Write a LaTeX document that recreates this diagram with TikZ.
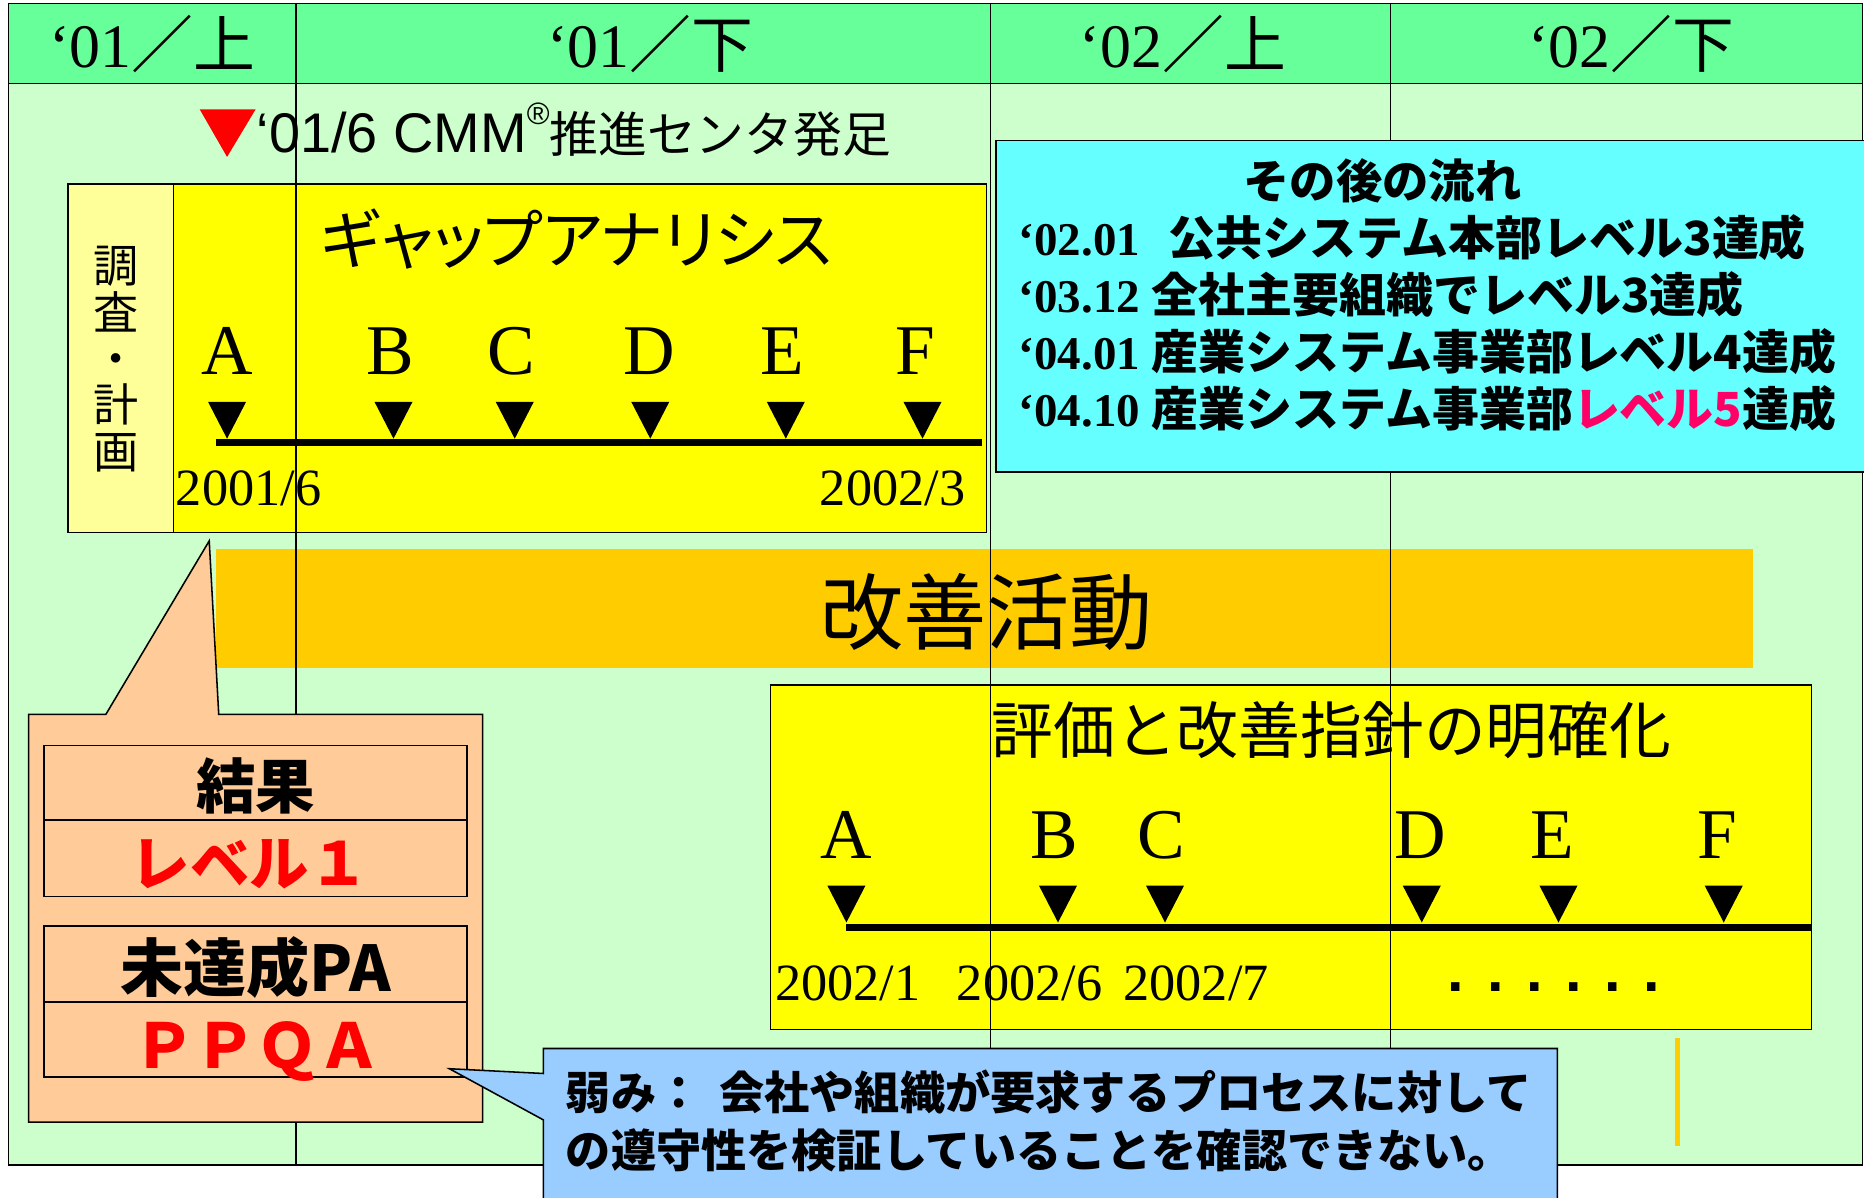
\documentclass[tikz,border=0pt]{standalone}
\usepackage{fontspec}
\setmainfont{Liberation Serif}
\newfontfamily\jp{Noto Sans CJK JP}
\newfontfamily\jpp{Noto Sans CJK JP}[RawFeature=+palt]
\newfontfamily\tms{Liberation Serif}
\newfontfamily\ari{Liberation Sans}
\newfontfamily\sqdots{Liberation Sans}[LetterSpace=38]
\newcommand\setfs[1]{\fontsize{#1}{#1}\selectfont}
\definecolor{hdr}{HTML}{66FF99}
\definecolor{bodyg}{HTML}{CCFFCC}
\definecolor{cyanbox}{HTML}{66FFFF}
\definecolor{peach}{HTML}{FFCC99}
\definecolor{bluebox}{HTML}{99CCFF}
\definecolor{yel}{HTML}{FFFF00}
\definecolor{lyel}{HTML}{FFFF99}
\definecolor{orng}{HTML}{FFCC00}
\definecolor{pinkred}{HTML}{FF0066}
\tikzset{
  lbl/.style={inner sep=0pt, outer sep=0pt},
  frame/.style={draw=black, line width=1.3pt},
  gridline/.style={draw=black, line width=1pt},
  tline/.style={line width=6pt},
  tipmark/.style={fill=black},
}
\begin{document}
\begin{tikzpicture}[x=1pt,y=-1pt]
\useasboundingbox (0,0) rectangle (1568,1007);
\fill[white] (0,0) rectangle (1568,1007);
% background table
\fill[bodyg] (7,3) rectangle (1566.5,980);
\fill[hdr] (7,3) rectangle (1566.5,70);
\draw[gridline] (7,3) rectangle (1566.5,980);
\draw[gridline] (7,70) -- (1566.5,70);
% header labels
\node[lbl, anchor=base] (h1) at (128,57) {\setfs{52}{\tms ‘01}{\jp ／上}};
\node[lbl, anchor=base] (h2) at (547,57) {\setfs{52}{\tms ‘01}{\jp ／下}};
\node[lbl, anchor=base] (h3) at (995,57) {\setfs{52}{\tms ‘02}{\jp ／上}};
\node[lbl, anchor=base] (h4) at (1372,57) {\setfs{52}{\tms ‘02}{\jp ／下}};
% CMM center start
\fill[red] (168,92) -- (215,92) -- (191,132) -- cycle;
\node[lbl, anchor=base west] (cmm) at (216,128) {{\setfs{47}\ari ‘01/6 CMM\raisebox{0.5em}{\setfs{26}®}}{\setfs{41}\jp 推進センタ発足}};
% gap analysis box
\fill[lyel] (57,155) rectangle (146,448);
\fill[yel] (146,155) rectangle (830,448);
\draw[frame] (57,155) rectangle (830,448);
\draw[frame] (146,155) -- (146,448);
\node[lbl, align=center, font={\setfs{38}\jp}] (plan) at (98,302) {調\\[1pt]査\\[1pt]・\\[1pt]計\\[1pt]画};
\node[lbl, anchor=base] (gap) at (485,222) {\setfs{54}\jpp ギャップアナリシス};
\foreach \n/\lx/\tx in {A/191/191, B/328/331, C/430/433, D/546/547, E/658/661, F/770/776}{
  \node[lbl, anchor=base] (u\n) at (\lx,315) {\setfs{60}\tms \n};
  \fill[tipmark] (\tx-16,338) -- (\tx+16,338) -- (\tx,369) -- cycle;
}
\coordinate (ul) at (182,372);
\coordinate (ur) at (826,372);
\draw[tline] (ul) -- (ur);
\node[lbl, anchor=base west] (d1) at (148,425) {\setfs{44}\tms 2001/6};
\node[lbl, anchor=base east] (d2) at (812,425) {\setfs{44}\tms 2002/3};
% improvement band
\fill[orng] (182,462) rectangle (1475,562);
\node[lbl, anchor=base] (kz) at (830,541) {\setfs{70}\jp 改善活動};
% lower box
\fill[yel] (648,576) rectangle (1524,866);
\draw[frame] (648,576) rectangle (1524,866);
\node[lbl, anchor=base] (hyo) at (1120,634) {\setfs{52}\jp 評価と改善指針の明確化};
\foreach \n/\lx/\tx in {A/712/712, B/887/890, C/977/980, D/1195/1196, E/1306/1311, F/1445/1450}{
  \node[lbl, anchor=base] (l\n) at (\lx,722) {\setfs{60}\tms \n};
  \fill[tipmark] (\tx-16,745) -- (\tx+16,745) -- (\tx,776) -- cycle;
}
\coordinate (ll) at (712,780);
\coordinate (lr) at (1524,780);
\draw[tline] (ll) -- (lr);
\node[lbl, anchor=base west] (e1) at (652,842) {\setfs{44}\tms 2002/1};
\node[lbl, anchor=base west] (e2) at (805,842) {\setfs{44}\tms 2002/6};
\node[lbl, anchor=base west] (e3) at (945,842) {\setfs{44}\tms 2002/7};
\node[lbl, anchor=base west] (e4) at (1218,834) {\setfs{50}\sqdots\bfseries ......};
% column lines
\draw[gridline] (249,3) -- (249,980);
\draw[gridline] (833,3) -- (833,980);
\draw[gridline] (1170,3) -- (1170,980);
% small orange line
\draw[orng, line width=4pt] (1411,873) -- (1411,964);
% after-flow cyan box
\fill[cyanbox] (838,118) rectangle (1600,397);
\draw[frame] (838,118) rectangle (1600,397);
\node[lbl, anchor=base] (flow) at (1163,167) {\setfs{39}\jp\bfseries その後の流れ};
\node[lbl, anchor=base west] (f1) at (857,215) {\setfs{39.5}{\tms\bfseries ‘02.01}\hspace{0.6em}{\jp\bfseries 公共システム本部レベル3達成}};
\node[lbl, anchor=base west] (f2) at (857,263) {\setfs{39.5}{\tms\bfseries ‘03.12} {\jp\bfseries 全社主要組織でレベル3達成}};
\node[lbl, anchor=base west] (f3) at (857,311) {\setfs{39.5}{\tms\bfseries ‘04.01} {\jp\bfseries 産業システム事業部レベル4達成}};
\node[lbl, anchor=base west] (f4) at (857,359) {\setfs{39.5}{\tms\bfseries ‘04.10} {\jp\bfseries 産業システム事業部\textcolor{pinkred}{レベル5}達成}};
% result callout
\path[frame, fill=peach] (24,601) -- (89,601) -- (176,455) -- (184,601) -- (406,601) -- (406,944) -- (24,944) -- cycle;
\draw[frame, fill=peach] (37,627) rectangle (393,754);
\draw[frame] (37,690) -- (393,690);
\draw[frame, fill=peach] (37,779) rectangle (393,906);
\draw[frame] (37,843) -- (393,843);
\node[lbl, anchor=base] (res) at (215,680) {\setfs{50}\jp\bfseries 結果};
\node[lbl, anchor=base] (lv1) at (210,745) {\setfs{50}\jp\bfseries\color{red} レベル１};
\node[lbl, anchor=base] (npa) at (215,834) {\setfs{53}\jp\bfseries 未達成PA};
\node[lbl, anchor=base] (ppqa) at (216,899) {\setfs{52}\jp\bfseries\color{red} ＰＰＱＡ};
% weakness callout
\path[frame, fill=bluebox] (457,882) -- (1310,882) -- (1310,1030) -- (457,1030) -- (457,942) -- (378,899) -- (457,903) -- cycle;
\node[lbl, anchor=base west] (w1) at (476,933) {\setfs{38}\jp\bfseries 弱み：\hspace{0.4em}会社や組織が要求するプロセスに対して};
\node[lbl, anchor=base west] (w2) at (476,982) {\setfs{38}\jp\bfseries の遵守性を検証していることを確認できない。};
\end{tikzpicture}
\end{document}
